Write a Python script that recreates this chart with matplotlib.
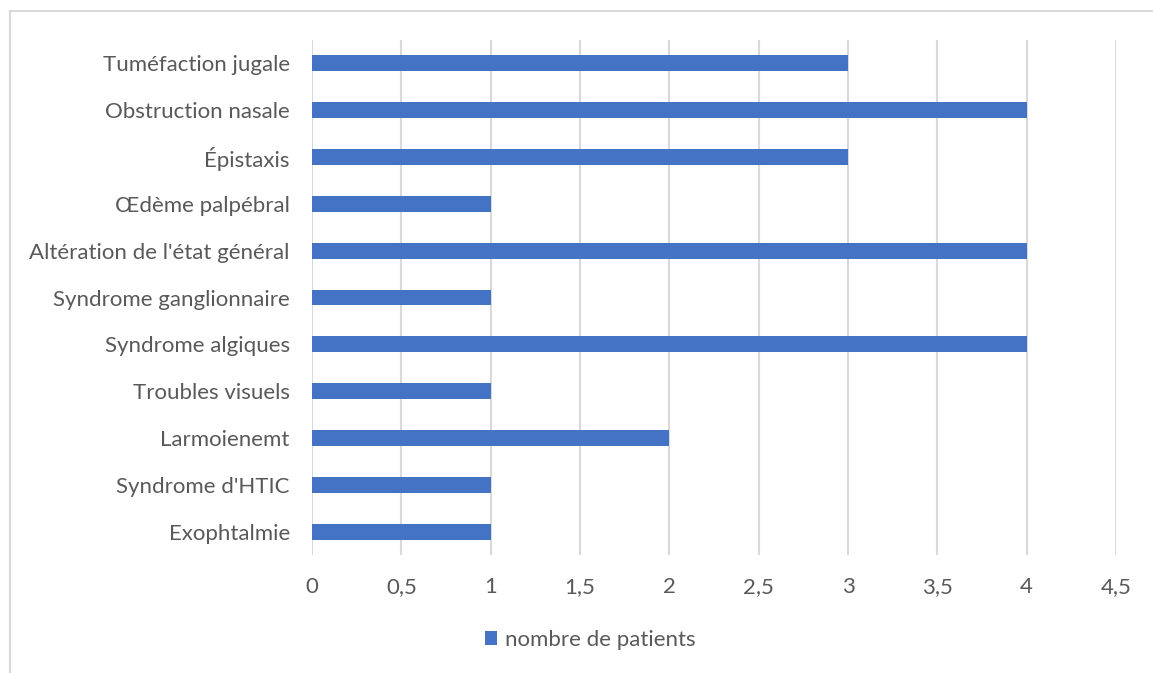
import matplotlib.pyplot as plt
from matplotlib.lines import Line2D

# symptômes, du haut vers le bas
symptomes = ["Tuméfaction jugale", "Obstruction nasale", "Épistaxis", "Œdème palpébral",
             "Altération de l'état général", "Syndrome ganglionnaire", "Syndrome algiques",
             "Troubles visuels", "Larmoienemt", "Syndrome d'HTIC", "Exophtalmie"]
nb_patients = [3, 4, 3, 1, 4, 1, 4, 1, 2, 1, 1]
graduations = [0, 0.5, 1, 1.5, 2, 2.5, 3, 3.5, 4, 4.5]
etiquettes_x = ["0", "0,5", "1", "1,5", "2", "2,5", "3", "3,5", "4", "4,5"]

plt.rcParams['font.family'] = ['Lato', 'DejaVu Sans']
gris = '#595959'
taille = 16

fig = plt.figure(figsize=(11.53, 6.73), dpi=100)
W, H = 1153, 673
ax = fig.add_axes([312 / W, 1 - 555 / H, (1116 - 312) / W, (555 - 40) / H])

pos = list(range(len(symptomes)))[::-1]
ax.barh(pos, nb_patients, height=0.34, color='#4472C4', zorder=3,
        label='nombre de patients')

ax.set_xlim(0, 4.5)
ax.set_ylim(-0.5, len(symptomes) - 0.5)
ax.set_xticks(graduations)
ax.set_xticklabels(etiquettes_x)
ax.set_yticks(pos)
ax.set_yticklabels(symptomes)
ax.tick_params(axis='both', length=0, labelsize=taille, colors=gris)
ax.tick_params(axis='x', pad=16)
ax.tick_params(axis='y', pad=16)
ax.grid(axis='x', color='#D9D9D9', linewidth=1.5, zorder=0)
for s in ax.spines.values():
    s.set_visible(False)

leg = fig.legend(loc='center', bbox_to_anchor=(590 / W, 1 - 640 / H), frameon=False,
                 fontsize=taille, handlelength=0.55, handleheight=0.55, handletextpad=0.35)
for t in leg.get_texts():
    t.set_color(gris)

# cadre de la zone du graphique
fig.add_artist(Line2D([10 / W, 1], [1 - 11 / H, 1 - 11 / H], color='#D9D9D9', lw=1.5,
                      transform=fig.transFigure))
fig.add_artist(Line2D([10 / W, 10 / W], [0, 1 - 11 / H], color='#D9D9D9', lw=1.5,
                      transform=fig.transFigure))

fig.savefig('out.png', dpi=100)
